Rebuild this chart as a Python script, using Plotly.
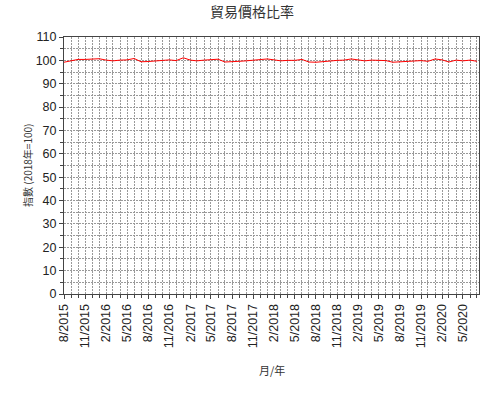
import plotly.graph_objects as go
import pandas as pd

# 月份 8/2015 - 7/2020
meses = pd.date_range('2015-08-01', '2020-07-01', freq='MS')

# índice de preços (2018=100)
ratio = [
    99.2, 99.8, 100.4, 100.4, 100.4, 100.7, 100.1, 99.8, 100.1, 100.2,
    100.8, 99.4, 99.5, 99.7, 99.8, 100.2, 99.9, 101.1, 100.1, 99.8,
    100.1, 100.2, 100.5, 99.3, 99.3, 99.6, 99.8, 100.1, 100.1, 100.6,
    100.2, 99.8, 100.0, 100.0, 100.4, 99.3, 99.2, 99.6, 99.7, 100.0,
    100.1, 100.6, 100.2, 99.8, 100.1, 99.9, 99.9, 99.2, 99.4, 99.4,
    99.6, 99.9, 99.6, 100.6, 100.2, 99.3, 100.1, 99.8, 100.1, 99.6,
]

y_ticks = list(range(0, 111, 10))

fig = go.Figure()

fig.add_trace(go.Scatter(
    x=meses,
    y=ratio,
    mode='lines',
    line=dict(color='#ff0000', width=1),
    showlegend=False
))

grid = dict(showgrid=True, gridcolor='#999999', griddash='2px,1px', gridwidth=1)

fig.update_layout(
    width=500,
    height=400,
    paper_bgcolor='white',
    plot_bgcolor='white',
    margin=dict(l=64, r=21, t=37, b=106),
    font=dict(family='Liberation Sans, Arial', size=12.5, color='#222222'),
    title=dict(
        text='貿易價格比率',
        x=0.504, xanchor='center', y=0.97, yanchor='middle',
        font=dict(family='Noto Sans CJK TC', size=14, color='#333333')
    ),
    xaxis=dict(
        range=['2015-08-01', '2020-07-10'],
        dtick='M3',
        tick0='2015-08-01',
        tickformat='%-m/%Y',
        tickangle=-90,
        ticks='outside',
        ticklen=4,
        showline=True,
        linecolor='#444444',
        mirror=True,
        automargin=False,
        minor=dict(dtick='M1', ticks='outside', ticklen=3, showgrid=True,
                   gridcolor='#999999', griddash='2px,1px'),
        **grid
    ),
    yaxis=dict(
        range=[0, 110],
        tickvals=y_ticks,
        ticks='outside',
        ticklen=4,
        showline=True,
        linecolor='#444444',
        mirror=True,
        zeroline=False,
        automargin=False,
        minor=dict(dtick=5, ticks='outside', ticklen=3, showgrid=True,
                   gridcolor='#999999', griddash='2px,1px'),
        **grid
    ),
    annotations=[
        dict(text='月/年', xref='paper', yref='paper', x=0.5, y=-0.296,
             xanchor='center', yanchor='middle', showarrow=False,
             font=dict(family='Noto Sans CJK TC', size=11, color='#333333')),
        dict(text='指數 (2018年=100)', xref='paper', yref='paper', x=-0.088, y=0.5,
             xanchor='center', yanchor='middle', textangle=-90, showarrow=False,
             font=dict(family='Noto Sans CJK TC', size=10, color='#333333')),
    ],
)

# sem margem do body para o gráfico ficar no canto
fig.write_html('out.html', config={'displayModeBar': False},
               post_script="document.body.style.margin='0';")
